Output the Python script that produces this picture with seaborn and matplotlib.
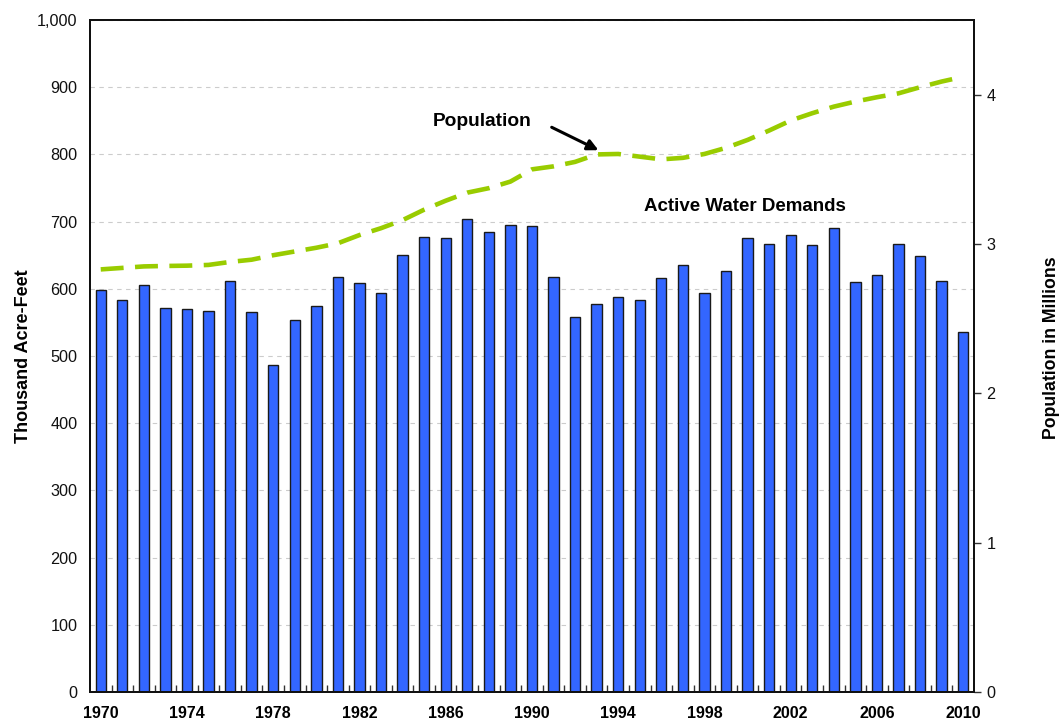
import numpy as np
import pandas as pd
import matplotlib
matplotlib.use("Agg")
import matplotlib.pyplot as plt
from matplotlib.ticker import FuncFormatter
import seaborn as sns

# ===============================
# Datos
# ===============================

years = list(range(1970, 2011))

# Active water demands (thousand acre-feet)
demand = [598, 583, 605, 572, 570, 567, 612, 565, 486, 554,
          575, 617, 608, 594, 650, 677, 676, 704, 685, 695,
          694, 618, 558, 578, 588, 583, 616, 635, 594, 627,
          675, 667, 680, 665, 691, 610, 621, 666, 649, 611,
          535]

# Population (millions)
population = [2.83, 2.84, 2.85, 2.853, 2.855, 2.86, 2.88, 2.895, 2.925, 2.95,
              2.975, 3.005, 3.06, 3.106, 3.16, 3.23, 3.29, 3.344, 3.374, 3.418,
              3.50, 3.52, 3.55, 3.60, 3.603, 3.585, 3.567, 3.577, 3.603, 3.644,
              3.697, 3.76, 3.827, 3.876, 3.92, 3.954, 3.983, 4.009, 4.05, 4.088,
              4.12]

df = pd.DataFrame({"Year": years, "Demand": demand, "Population": population})

# ===============================
# Estilo
# ===============================

sns.set_style("white")
plt.rcParams["font.family"] = ["Liberation Sans", "DejaVu Sans"]
plt.rcParams["text.color"] = "black"
plt.rcParams["axes.labelcolor"] = "black"

fig = plt.figure(figsize=(10.62, 7.23), dpi=100)
ax = fig.add_axes([0.0847, 0.0429, 0.9171 - 0.0847, 0.9723 - 0.0429])

# Barras
sns.barplot(data=df, x="Year", y="Demand", native_scale=True, ax=ax,
            color="#3366FF", saturation=1, width=0.48,
            edgecolor="#1a1a1a", linewidth=1, errorbar=None, zorder=2)

ax.set_xlim(1969.5, 2010.5)
ax.set_ylim(0, 1000)
ax.set_yticks(range(0, 1001, 100))
ax.yaxis.set_major_formatter(FuncFormatter(lambda v, p: f"{int(v):,}"))
ax.set_xticks(range(1970, 2011, 4))
ax.set_xticklabels([str(y) for y in range(1970, 2011, 4)], fontweight="bold")
ax.set_xticks(np.arange(1970.5, 2010, 1), minor=True)

ax.tick_params(axis="x", which="both", bottom=True)
ax.tick_params(axis="x", which="major", length=0, labelsize=11.5, pad=10, labelcolor="black")
ax.tick_params(axis="x", which="minor", direction="in", length=5, width=1, color="#333333")
ax.tick_params(axis="y", length=0, labelsize=11.7, pad=9, labelcolor="#111111")

ax.set_axisbelow(True)
ax.yaxis.grid(True, linestyle=(0, (4, 4)), color="#cccccc", linewidth=0.8)
ax.xaxis.grid(False)

for s in ax.spines.values():
    s.set_color("#111111")
    s.set_linewidth(1.4)

ax.set_xlabel("")
ax.set_ylabel("Thousand Acre-Feet", fontsize=13, fontweight="bold")
ax.yaxis.set_label_coords(-0.066, 0.5)

# Línea de población
ax2 = ax.twinx()
sns.lineplot(data=df, x="Year", y="Population", ax=ax2, color="#99CC00",
             linewidth=3.3, linestyle=(0, (5, 2.5)), zorder=3)
ax2.set_xlim(1969.5, 2010.5)
ax2.set_ylim(0, 4.5)
ax2.set_yticks([0, 1, 2, 3, 4])
ax2.tick_params(axis="y", right=True, direction="out", length=5, width=1, color="#333333",
                labelsize=11.7, pad=4, labelcolor="#111111")
ax2.set_ylabel("Population in Millions", fontsize=12.7, fontweight="bold")
ax2.yaxis.set_label_coords(1.0785, 0.513)
for s in ax2.spines.values():
    s.set_color("#111111")
    s.set_linewidth(1.4)

# Anotaciones
ax2.annotate("", xy=(1993.2, 3.62), xytext=(1990.8, 3.79),
             arrowprops=dict(arrowstyle="-|>", color="black", lw=2.2, mutation_scale=16))
ax2.text(1987.68, 3.818, "Population", ha="center", va="center",
         fontsize=13.8, fontweight="bold")
ax.text(1999.88, 722, "Active Water Demands", ha="center", va="center",
        fontsize=13.5, fontweight="bold")

plt.savefig("out.png", dpi=100)
